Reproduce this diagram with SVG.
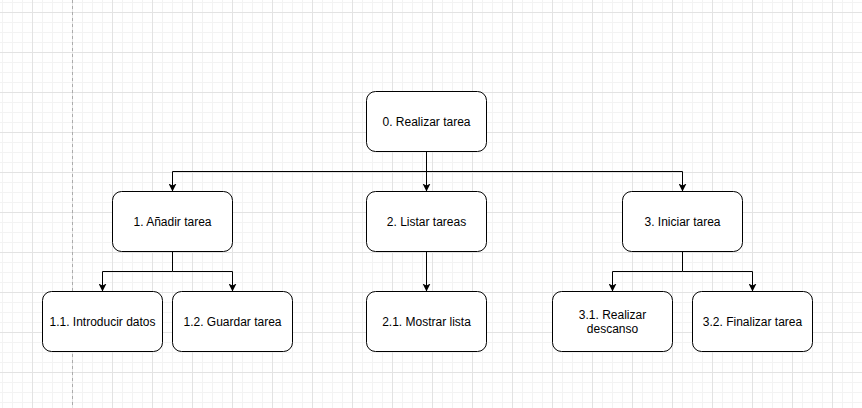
<svg xmlns="http://www.w3.org/2000/svg" width="862" height="408" viewBox="0 0 862 408">
<style>
.node rect{fill:#ffffff;stroke:#000000;stroke-width:1}
.node text{font-family:"Liberation Sans",Arial,sans-serif;font-size:12px;fill:#000000;text-anchor:middle}
.edge{fill:none;stroke:#000000;stroke-width:1}
</style>
<defs>
<pattern id="grid" patternUnits="userSpaceOnUse" x="32" y="12" width="40" height="40">
<rect width="40" height="40" fill="#ffffff"/>
<path d="M10.5,0V40M20.5,0V40M30.5,0V40M0,10.5H40M0,20.5H40M0,30.5H40" stroke="#f3f3f3" stroke-width="1" fill="none"/>
<path d="M0.5,0V40M0,0.5H40" stroke="#e3e3e3" stroke-width="1" fill="none"/>
</pattern>
<marker id="arrow" markerUnits="userSpaceOnUse" viewBox="0 0 8 8" markerWidth="8" markerHeight="8" refX="8" refY="4" orient="auto">
<path d="M8,4 L0,0 L2,4 L0,8 Z" fill="#000000"/>
</marker>
</defs>
<rect x="0" y="0" width="862" height="408" fill="url(#grid)"/>
<line x1="72.5" y1="0" x2="72.5" y2="408" stroke="#ababab" stroke-width="1" stroke-dasharray="3,3"/>
<g id="connectors">
<path class="edge" d="M426.5,151.5V171.5H172.5V191.5" marker-end="url(#arrow)"/>
<path class="edge" d="M426.5,151.5V191.5" marker-end="url(#arrow)"/>
<path class="edge" d="M426.5,171.5H682.5V191.5" marker-end="url(#arrow)"/>
<path class="edge" d="M172.5,251.5V271.5H102.5V291.5" marker-end="url(#arrow)"/>
<path class="edge" d="M172.5,271.5H232.5V291.5" marker-end="url(#arrow)"/>
<path class="edge" d="M426.5,251.5V291.5" marker-end="url(#arrow)"/>
<path class="edge" d="M682.5,251.5V271.5H612.5V291.5" marker-end="url(#arrow)"/>
<path class="edge" d="M682.5,271.5H752.5V291.5" marker-end="url(#arrow)"/>
</g>
<g id="n0" class="node"><rect x="366.5" y="91.5" width="120" height="60" rx="9"/><text x="426.5" y="125.5">0. Realizar tarea</text></g>
<g id="n1" class="node"><rect x="112.5" y="191.5" width="120" height="60" rx="9"/><text x="172.5" y="225.5">1. Añadir tarea</text></g>
<g id="n2" class="node"><rect x="366.5" y="191.5" width="120" height="60" rx="9"/><text x="426.5" y="225.5">2. Listar tareas</text></g>
<g id="n3" class="node"><rect x="622.5" y="191.5" width="120" height="60" rx="9"/><text x="682.5" y="225.5">3. Iniciar tarea</text></g>
<g id="n11" class="node"><rect x="42.5" y="291.5" width="120" height="60" rx="9"/><text x="102.5" y="325.5">1.1. Introducir datos</text></g>
<g id="n12" class="node"><rect x="172.5" y="291.5" width="120" height="60" rx="9"/><text x="232.5" y="325.5">1.2. Guardar tarea</text></g>
<g id="n21" class="node"><rect x="366.5" y="291.5" width="120" height="60" rx="9"/><text x="426.5" y="325.5">2.1. Mostrar lista</text></g>
<g id="n31" class="node"><rect x="552.5" y="291.5" width="120" height="60" rx="9"/><text x="612.5" y="318.5">3.1. Realizar</text><text x="612.5" y="332.5">descanso</text></g>
<g id="n32" class="node"><rect x="692.5" y="291.5" width="120" height="60" rx="9"/><text x="752.5" y="325.5">3.2. Finalizar tarea</text></g>
</svg>
